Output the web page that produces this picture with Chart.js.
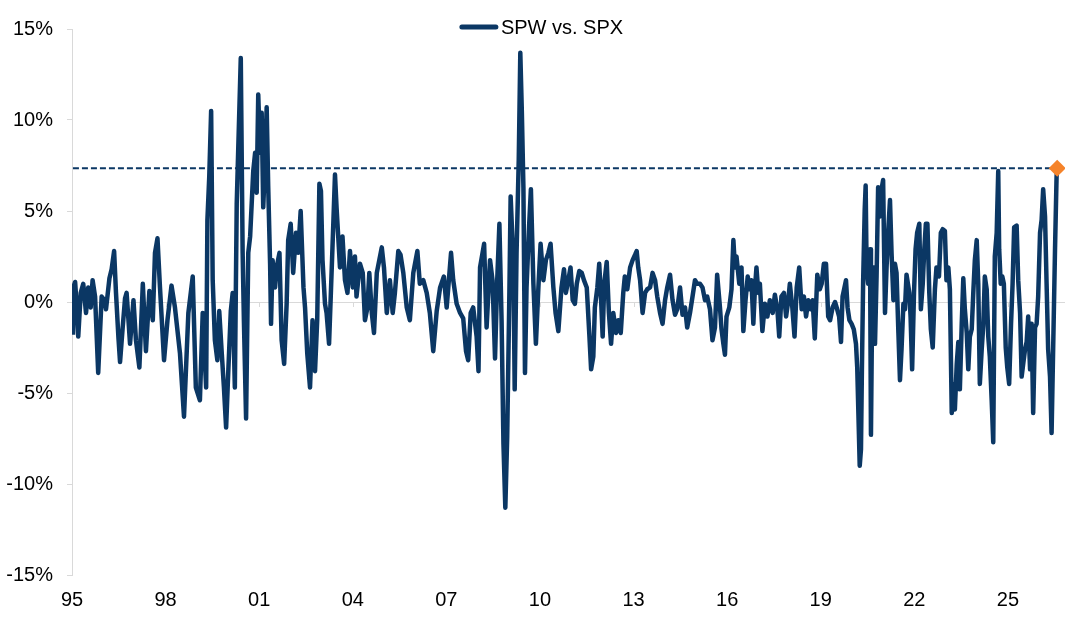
<!DOCTYPE html>
<html><head><meta charset="utf-8">
<script src="https://cdn.jsdelivr.net/npm/chart.js@4.4.1/dist/chart.umd.min.js"></script>
<style>html,body{margin:0;padding:0;background:#fff}#wrap{width:1065px;height:631px;position:relative}</style>
</head><body><div id="wrap"><canvas id="c"></canvas></div>
<script>
const seriesName = 'SPW vs. SPX';
const years = [
1995.03,1995.06,1995.10,1995.15,1995.20,1995.28,1995.36,1995.45,1995.52,1995.60,1995.66,1995.74,1995.84,1995.95,
1996.04,1996.09,1996.20,1996.27,1996.35,1996.41,1996.49,1996.54,1996.62,1996.70,1996.75,1996.81,1996.86,1996.97,
1997.05,1997.16,1997.27,1997.37,1997.48,1997.59,1997.66,1997.74,1997.82,1997.95,1998.06,1998.19,1998.30,1998.46,
1998.59,1998.73,1998.87,1998.97,1999.10,1999.19,1999.30,1999.34,1999.40,1999.46,1999.51,1999.58,1999.66,1999.72,
1999.80,1999.87,1999.94,2000.01,2000.09,2000.15,2000.22,2000.28,2000.41,2000.47,2000.51,2000.58,2000.65,2000.71,
2000.76,2000.81,2000.87,2000.92,2000.97,2001.03,2001.08,2001.13,2001.19,2001.24,2001.29,2001.35,2001.38,2001.43,
2001.51,2001.56,2001.65,2001.72,2001.80,2001.88,2001.93,2002.01,2002.09,2002.18,2002.25,2002.33,2002.42,2002.47,
2002.54,2002.63,2002.71,2002.79,2002.86,2002.93,2002.98,2003.03,2003.11,2003.16,2003.24,2003.30,2003.38,2003.43,
2003.48,2003.54,2003.59,2003.67,2003.75,2003.83,2003.91,2004.00,2004.07,2004.12,2004.23,2004.32,2004.39,2004.47,
2004.53,2004.61,2004.68,2004.77,2004.85,2004.93,2005.00,2005.09,2005.19,2005.28,2005.35,2005.46,
2005.53,2005.62,2005.73,2005.83,2005.94,2006.07,2006.15,2006.26,2006.37,2006.47,2006.58,2006.69,2006.80,2006.92,
2007.01,2007.15,2007.22,2007.33,2007.44,2007.54,2007.63,2007.70,2007.78,2007.86,2007.97,2008.03,2008.08,2008.21,
2008.29,2008.40,2008.48,2008.56,2008.63,2008.70,2008.77,2008.83,2008.89,2008.95,2009.02,2009.06,2009.15,2009.19,
2009.25,2009.32,2009.37,2009.42,2009.47,2009.52,2009.57,2009.65,2009.71,2009.79,2009.87,2009.95,2010.02,2010.11,
2010.19,2010.27,2010.34,2010.43,2010.50,2010.59,
2010.69,2010.77,2010.83,2010.91,2010.98,2011.05,2011.12,2011.18,2011.26,2011.34,2011.41,2011.50,2011.58,2011.64,
2011.71,2011.76,2011.84,2011.90,2011.96,2012.01,2012.06,2012.14,2012.21,2012.28,2012.35,2012.44,2012.51,2012.59,
2012.67,2012.72,2012.80,2012.89,2012.97,2013.05,2013.10,2013.15,2013.21,2013.29,2013.37,2013.44,2013.53,2013.61,
2013.69,2013.76,2013.85,2013.93,2014.01,2014.08,2014.17,2014.25,2014.33,2014.40,2014.49,2014.57,2014.65,2014.72,
2014.81,2014.89,2014.97,2015.04,2015.13,2015.21,2015.29,2015.36,2015.45,2015.53,2015.61,2015.68,
2015.77,2015.82,2015.88,2015.93,2015.98,2016.07,2016.14,2016.20,2016.25,2016.30,2016.39,2016.46,2016.52,2016.59,
2016.66,2016.73,2016.78,2016.84,2016.89,2016.94,2017.00,2017.05,2017.13,2017.21,2017.29,2017.37,2017.46,2017.53,
2017.61,2017.67,2017.74,2017.82,2017.89,2017.96,2018.01,2018.09,2018.16,2018.23,2018.31,2018.39,2018.46,2018.53,
2018.60,2018.68,2018.74,2018.81,2018.89,2018.97,2019.03,2019.10,2019.17,2019.24,2019.30,2019.38,2019.46,2019.51,
2019.59,2019.65,2019.70,2019.75,2019.81,2019.86,2019.92,2019.99,2020.06,2020.13,2020.17,2020.21,2020.25,2020.29,
2020.32,2020.36,2020.41,2020.44,2020.47,2020.52,2020.58,2020.61,2020.66,2020.71,2020.74,
2020.79,2020.84,2020.90,2020.95,2021.00,2021.06,2021.11,2021.16,2021.22,2021.27,2021.33,2021.38,2021.43,2021.49,
2021.54,2021.59,2021.65,2021.70,2021.75,2021.84,2021.88,2021.93,2021.99,2022.04,2022.09,2022.16,2022.21,2022.27,
2022.32,2022.37,2022.42,2022.48,2022.53,2022.59,2022.66,2022.71,2022.79,2022.85,2022.91,2022.98,2023.03,2023.09,
2023.14,2023.20,2023.25,2023.30,2023.36,2023.41,2023.46,2023.52,2023.57,2023.62,2023.68,2023.73,2023.78,2023.84,
2023.89,2023.94,2024.00,2024.05,2024.10,2024.16,2024.21,2024.26,2024.32,2024.37,2024.42,2024.48,2024.53,2024.58,
2024.64,2024.69,2024.72,2024.77,2024.82,2024.87,2024.93,2024.98,2025.04,2025.10,2025.15,2025.20,2025.28,2025.33,
2025.39,2025.44,2025.49,2025.55,2025.60,2025.65,2025.71,2025.76,2025.81,2025.87,2025.92,2025.97,2026.03,2026.08,
2026.13,2026.19,2026.24,2026.29,2026.35,2026.40,2026.45,2026.51,2026.56,2026.58
];
const spread = [
-1.8,0.9,1.1,-0.2,-1.9,0.5,1.0,-0.6,0.8,-0.3,1.2,0.3,-3.9,0.3,
0.1,-0.4,1.3,1.8,2.8,0.5,-2.0,-3.3,-1.5,0.2,0.5,-1.0,-2.3,0.1,
-2.1,-3.6,1.0,-2.7,0.6,-1.0,2.7,3.5,0.8,-3.2,-1.0,0.9,-0.3,-2.8,
-6.3,-0.6,1.4,-4.7,-5.4,-0.6,-4.7,4.5,6.9,10.5,1.2,-2.1,-3.2,-0.5,
-2.8,-4.7,-6.9,-3.8,-0.5,0.5,-4.7,5.4,13.4,2.7,-1.0,-6.4,2.7,3.6,
5.4,7.2,8.2,6.0,11.4,8.2,10.4,5.2,7.8,10.7,6.3,2.1,-1.2,2.3,
0.8,1.9,2.7,-2.1,-3.4,-0.1,3.4,4.3,1.6,3.8,2.7,5.0,0.8,-0.3,
-2.8,-4.7,-1.0,-3.8,-1.0,6.5,6.1,2.3,-0.1,-0.6,-2.3,0.6,4.5,7.0,
5.2,3.4,1.9,3.6,1.2,0.5,2.8,0.8,2.5,0.3,2.1,1.6,-1.0,-0.3,
1.6,-0.6,-1.7,1.6,2.3,3.0,1.9,-0.6,1.2,-0.6,0.5,2.8,
2.6,1.6,-0.3,-1.0,1.6,2.8,1.0,1.2,0.5,-0.6,-2.7,-0.5,0.8,1.4,
-0.3,2.7,1.2,-0.1,-0.6,-0.9,-2.7,-3.2,-0.6,-0.3,-1.9,-3.8,1.9,3.2,
-1.4,2.3,1.2,-3.1,1.2,4.3,-1.0,-7.8,-11.3,-7.4,0.5,5.8,2.1,-4.8,
2.7,7.8,13.7,10.4,6.3,-3.9,0.8,4.1,6.2,1.0,-2.3,0.8,3.2,1.2,
2.3,2.7,3.2,0.8,-0.6,-1.6,
0.8,1.8,0.5,1.2,1.9,0.1,-0.1,1.0,1.7,1.6,1.2,0.8,-1.7,-3.7,
-3.0,-0.3,0.8,2.1,0.1,-1.9,1.0,2.2,-0.6,-2.3,-0.6,-1.7,-1.0,-1.7,
0.5,1.4,0.7,1.9,2.3,2.6,2.8,1.9,1.2,-0.6,0.5,0.7,0.8,1.6,
1.2,0.3,-0.6,-1.2,0.1,0.8,1.5,0.1,-0.7,-0.4,0.8,-0.7,-0.3,-1.4,
-0.6,0.3,1.2,1.0,1.0,0.8,0.1,0.3,-0.4,-2.1,-1.4,1.5,
-0.3,-1.5,-2.3,-2.9,-0.8,-0.3,0.7,3.4,1.9,2.5,1.0,1.9,-1.6,0.1,
1.4,0.7,1.2,-1.2,0.7,1.9,0.5,1.0,-1.6,-0.1,-0.8,0.1,-0.6,0.4,
-0.4,-1.9,0.3,0.5,-0.8,0.1,1.0,-0.3,-1.9,0.8,1.9,-0.4,0.3,-0.8,
0.1,-0.4,0.1,-2.0,1.5,0.7,1.0,2.1,2.1,-0.8,-1.0,-0.3,0.0,-0.3,
-0.8,-2.2,0.3,0.7,1.2,-0.3,-1.0,-1.2,-1.5,-2.3,-3.6,-6.3,-9.0,-8.1,
-3.7,1.2,5.1,6.4,1.9,1.0,2.9,-7.3,1.9,1.9,-2.3,
1.4,6.3,4.7,6.2,6.7,-0.6,1.9,3.8,5.6,2.7,0.1,2.1,1.6,-1.7,
-4.3,-2.6,-0.1,-0.4,1.5,0.5,-0.8,-3.7,0.5,2.9,3.8,4.3,-0.4,1.0,
2.9,4.3,4.3,0.5,-1.5,-2.5,0.7,1.9,1.4,3.8,4.0,3.9,1.2,1.9,
0.7,-6.1,-4.5,-5.9,-3.4,-2.2,-4.8,-1.2,1.3,-0.4,-1.7,-3.7,-1.9,-1.5,
0.5,2.3,3.4,1.0,-4.5,-2.6,-1.3,1.4,0.7,-1.9,-3.0,-5.4,-7.7,2.5,
3.8,7.2,2.9,1.0,1.4,1.0,-2.5,-3.6,-4.5,-1.2,1.0,4.1,4.2,1.2,
-0.6,-4.1,-3.4,-2.6,-2.2,-0.8,-3.7,-1.2,-6.1,-1.4,-1.2,0.3,3.8,4.5,
6.2,4.7,1.0,-2.6,-4.1,-7.2,-2.6,2.9,6.9,7.35
];
const xTickYears = [1995,1998,2001,2004,2007,2010,2013,2016,2019,2022,2025];
const yTickValues = [-15,-10,-5,0,5,10,15];

const lineColor = '#0b3764';
const markColor = '#f5832a';
const lastIdx = spread.length - 1;
const lastVal = spread[lastIdx];

Chart.defaults.font.family = "'Liberation Sans', Arial, sans-serif";
Chart.defaults.font.size = 20;
Chart.defaults.color = '#000';

const points = years.map((y, i) => ({x: y, y: spread[i]}));

const xTickMarks = {
  id: 'xTickMarks',
  beforeDatasetsDraw(chart) {
    const {ctx, scales: {x, y}} = chart;
    const y0 = y.getPixelForValue(0);
    ctx.save();
    ctx.strokeStyle = '#d9d9d9';
    ctx.lineWidth = 1;
    xTickYears.forEach(v => {
      const px = Math.round(x.getPixelForValue(v)) + 0.5;
      ctx.beginPath(); ctx.moveTo(px, y0); ctx.lineTo(px, y0 + 5); ctx.stroke();
    });
    ctx.restore();
  }
};
const topLegend = {
  id: 'topLegend',
  afterDraw(chart) {
    const ctx = chart.ctx;
    ctx.save();
    ctx.font = "20px 'Liberation Sans', Arial, sans-serif";
    const tw = ctx.measureText(seriesName).width;
    const sw = 38, gap = 3;
    const total = sw + gap + tw;
    const cx = chart.width / 2 + 9;
    const x0 = cx - total / 2;
    const yc = 27;
    ctx.strokeStyle = lineColor;
    ctx.lineWidth = 5;
    ctx.lineCap = 'round';
    ctx.beginPath(); ctx.moveTo(x0 + 2, yc); ctx.lineTo(x0 + sw - 2, yc); ctx.stroke();
    ctx.fillStyle = '#000';
    ctx.textBaseline = 'middle';
    ctx.textAlign = 'left';
    ctx.fillText(seriesName, x0 + sw + gap, yc + 1);
    ctx.restore();
  }
};

new Chart(document.getElementById('c'), {
  type: 'line',
  data: {
    datasets: [
      {
        label: seriesName,
        data: points,
        borderColor: lineColor,
        backgroundColor: lineColor,
        borderWidth: 4.5,
        pointRadius: 0,
        tension: 0,
        borderJoinStyle: 'round',
        order: 2
      },
      {
        label: 'level',
        data: [{x: years[0], y: lastVal}, {x: years[lastIdx], y: lastVal}],
        borderColor: lineColor,
        borderWidth: 2,
        borderDash: [6, 3],
        pointRadius: 0,
        order: 3
      },
      {
        label: 'last',
        data: [{x: years[lastIdx], y: lastVal}],
        pointStyle: 'rectRot',
        pointRadius: 8.5,
        pointBackgroundColor: markColor,
        pointBorderColor: markColor,
        pointBorderWidth: 0,
        showLine: false,
        clip: false,
        order: 1
      }
    ]
  },
  options: {
    responsive: true,
    maintainAspectRatio: false,
    animation: false,
    devicePixelRatio: 1,
    layout: {autoPadding: false, padding: {top: 29, right: 0, bottom: 0, left: 0}},
    plugins: {legend: {display: false}, tooltip: {enabled: false}},
    scales: {
      x: {
        type: 'linear',
        min: 1995,
        max: 2026.83,
        afterFit(scale) { scale.height = 56; },
        grid: {display: false},
        border: {display: false},
        afterBuildTicks(scale) { scale.ticks = xTickYears.map(v => ({value: v})); },
        ticks: {
          autoSkip: false,
          maxRotation: 0,
          padding: 5,
          callback: v => String(v % 100).padStart(2, '0')
        }
      },
      y: {
        min: -15,
        max: 15,
        afterFit(scale) { scale.width = 72; },
        afterBuildTicks(scale) { scale.ticks = yTickValues.map(v => ({value: v})); },
        grid: {
          drawOnChartArea: true,
          color: c => (c.tick && c.tick.value === 0) ? '#d9d9d9' : 'rgba(0,0,0,0)',
          tickColor: '#d9d9d9',
          tickLength: 5
        },
        border: {display: true, color: '#d9d9d9'},
        ticks: {padding: 14, callback: v => v + '%'}
      }
    }
  },
  plugins: [xTickMarks, topLegend]
});
</script>
</body></html>
